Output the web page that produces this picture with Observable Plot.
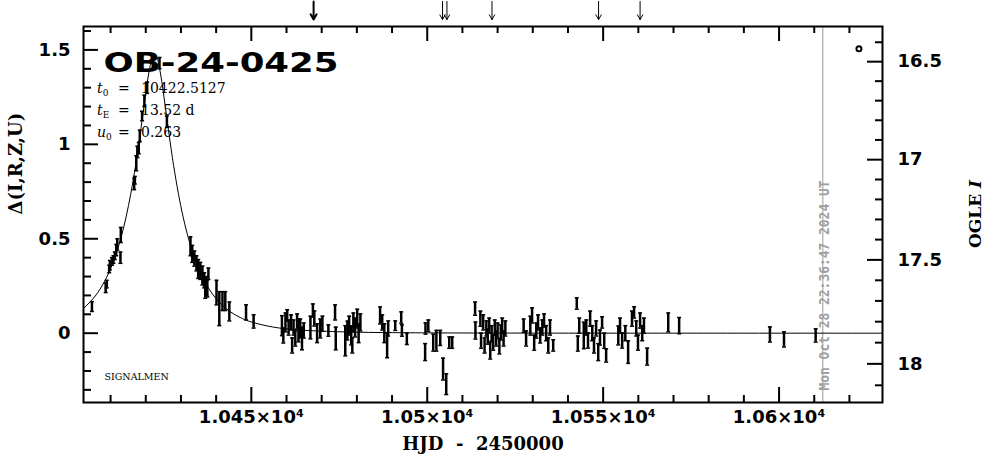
<!DOCTYPE html>
<html><head><meta charset="utf-8">
<script src="https://cdn.jsdelivr.net/npm/d3@7"></script>
<script src="https://cdn.jsdelivr.net/npm/@observablehq/plot@0.6"></script>
<style>
body{margin:0;background:#fff;}
#chart svg{display:block;}
</style>
</head><body><div id="chart"></div>
<script>
// ---- data ----
const hjd = [10404.7,10408.6,10408.9,10409.6,10409.8,10410.4,10410.8,10411.2,10411.6,10411.9,10412.8,10412.9,10416.7,10416.9,10417.3,10417.6,10418.0,10418.3,10418.95,10419.6,10420.4,10423.9,10426.0,
10432.7,10433.2,10433.8,10434.4,10434.9,10435.5,10436.1,10436.6,10437.2,10437.8,10436.9,10437.5,10440.1,10440.9,10441.8,10442.6,10443.75,10448.5,10450.65,
10458.7,10459.1,10459.7,10460.2,10460.6,10461.3,10461.6,10462.0,10462.5,10463.0,10463.4,10463.9,10464.4,10464.9,10466.8,10467.5,10467.9,10468.7,10469.6,10470.2,10471.9,10473.8,10474.0,
10476.7,10477.3,10477.8,10478.4,10478.7,10479.0,10479.5,10480.1,10480.5,10481.0,10486.6,10487.2,10487.8,10488.6,10488.9,10490.9,10492.6,10492.8,10494.2,
10499.5,10499.4,10500.3,10501.7,10502.6,10503.7,10504.5,10505.4,10506.25,10507.1,
10513.6,10513.7,10515.1,10515.3,10515.9,10516.3,10516.8,10517.2,10517.6,10517.9,10518.3,10518.75,10519.2,10519.6,10520.0,10520.5,10520.9,10521.3,10521.7,10522.2,
10527.4,10528.1,10529.3,10529.8,10530.4,10531.0,10531.5,10532.1,10532.7,10533.2,10533.8,10534.4,10534.9,10535.8,
10542.5,10543.2,10542.8,10544.5,10545.2,10545.7,10546.3,10546.9,10547.4,10548.0,10548.6,10549.1,10549.7,10550.3,10550.85,
10554.3,10554.8,10555.4,10556.3,10557.1,10558.2,10558.8,10559.4,10559.9,10560.5,10561.1,10561.6,10562.5,
10568.5,10571.6,10597.4,10601.4,10610.4];
const delta = [0.141,0.24,0.26,0.34,0.36,0.38,0.39,0.41,0.44,0.47,0.40,0.52,0.79,0.81,0.90,0.96,0.98,1.045,1.15,1.23,1.30,1.43,1.12,
0.46,0.42,0.395,0.37,0.34,0.33,0.305,0.28,0.25,0.315,0.225,0.237,0.215,0.13,0.17,0.17,0.115,0.11,0.062,
0.04,-0.012,0.057,0.094,0.03,0.057,-0.065,0.03,-0.028,0.062,0.014,0.025,-0.028,0.014,0.03,0.12,0.078,0.0,0.025,0.05,0.014,0.11,-0.028,
-0.04,0.014,0.04,-0.012,-0.065,0.057,0.03,0.077,0.0,0.057,0.094,0.057,0.0,-0.065,0.025,0.04,0.083,0.014,-0.03,
0.025,-0.10,0.04,-0.05,-0.04,-0.025,-0.19,-0.27,-0.05,-0.05,
0.13,0.014,0.077,-0.04,0.057,-0.065,0.025,-0.018,0.04,-0.092,0.0,-0.05,0.03,-0.028,0.014,-0.07,0.004,0.04,-0.028,0.025,
0.04,-0.028,0.04,0.094,-0.05,0.014,0.057,-0.012,0.03,0.067,0.0,-0.065,0.03,-0.065,
0.157,0.04,-0.055,-0.012,0.03,-0.039,0.077,0.0,-0.065,0.025,-0.10,-0.023,0.057,-0.04,-0.118,
-0.012,0.04,-0.039,0.0,-0.10,0.077,0.11,0.025,-0.05,0.067,0.0,0.04,-0.124,
0.057,0.04,-0.007,-0.033,-0.012];
const err = [0.026,0.025,0.02,0.02,0.025,0.02,0.02,0.02,0.03,0.03,0.03,0.04,0.03,0.02,0.04,0.03,0.03,0.03,0.025,0.03,0.03,0.03,0.03,
0.05,0.045,0.04,0.04,0.05,0.045,0.05,0.04,0.05,0.03,0.04,0.045,0.065,0.09,0.05,0.05,0.05,0.04,0.035,
0.053,0.04,0.05,0.03,0.04,0.04,0.04,0.04,0.04,0.04,0.06,0.05,0.06,0.04,0.06,0.035,0.04,0.05,0.05,0.04,0.03,0.04,0.06,
0.08,0.05,0.05,0.05,0.04,0.05,0.05,0.05,0.05,0.045,0.045,0.04,0.05,0.065,0.04,0.025,0.03,0.03,0.03,
0.03,0.045,0.03,0.045,0.055,0.04,0.058,0.055,0.03,0.03,
0.035,0.045,0.04,0.04,0.04,0.04,0.04,0.04,0.04,0.045,0.04,0.04,0.04,0.04,0.04,0.04,0.04,0.04,0.04,0.04,
0.035,0.04,0.05,0.04,0.04,0.04,0.04,0.04,0.04,0.035,0.04,0.04,0.04,0.03,
0.03,0.04,0.04,0.07,0.04,0.04,0.04,0.04,0.04,0.04,0.045,0.04,0.03,0.04,0.035,
0.05,0.04,0.04,0.04,0.06,0.04,0.03,0.04,0.04,0.04,0.04,0.04,0.045,
0.05,0.043,0.04,0.04,0.035];

// model curve (t0 = 10422.5127, tE = 13.52 d, u0 = 0.263), values read/checked against the picture
const modelT = [10402.3,10403.58,10406.29,10408.99,10410.35,10411.70,10413.05,10414.40,10415.75,10417.10,10417.78,10418.46,10419.13,10419.81,10420.48,10421.16,10421.84,10422.51,10423.19,10423.86,10424.54,10425.22,10425.89,10426.57,10427.24,10427.92,10429.27,10430.62,10431.98,10433.33,10434.68,10436.03,10438.74,10441.44,10444.14,10446.85,10449.55,10456.31,10463.07,10476.59,10490.11,10503.63,10530.67,10557.71,10629.4];
const modelD = [0.132,0.154,0.213,0.300,0.358,0.427,0.512,0.615,0.739,0.887,0.971,1.060,1.152,1.245,1.334,1.408,1.459,1.478,1.459,1.408,1.334,1.245,1.152,1.060,0.971,0.887,0.739,0.615,0.512,0.427,0.358,0.300,0.213,0.154,0.112,0.083,0.062,0.032,0.018,0.0067,0.0030,0.0015,0.0005,0.0002,0.0];

const xMajorTicks = [10450,10500,10550,10600];
const xMajorLabels = ["1.045×10⁴","1.05×10⁴","1.055×10⁴","1.06×10⁴"];
const xMinorTicks = [10410,10420,10430,10440,10460,10470,10480,10490,10510,10520,10530,10540,10560,10570,10580,10590,10610,10620];
const yMajorTicks = [0,0.5,1,1.5];
const yMajorLabels = ["0","0.5","1","1.5"];
const yMinorTicks = [-0.3,-0.2,-0.1,0.1,0.2,0.3,0.4,0.6,0.7,0.8,0.9,1.1,1.2,1.3,1.4,1.6];
const magMajorTicks = [16.5,17,17.5,18];
const magMajorLabels = ["16.5","17","17.5","18"];
const magMinorTicks = [16.4,16.6,16.7,16.8,16.9,17.1,17.2,17.3,17.4,17.6,17.7,17.8,17.9,18.1];
const magBase = 17.855, sourceFrac = 0.90;

const arrowTimes = [10467.7,10504.35,10505.6,10518.4,10548.7,10560.5];
const arrowBold = [true,false,false,false,false,false];
const nowHJD = 10612.44;
const nowLabel = "Mon Oct 28 22:36:47 2024 UT";
const eventName = "OB-24-0425";
const paramSymbols = ["t","t","u"];
const paramSubs = ["0","E","0"];
const paramValues = ["10422.5127","13.52 d","0.263"];
const surveyTag = "SIGNALMEN";
const legendT = [10622.7], legendD = [1.506];
const xTitle = "HJD  -  2450000";
const yTitle = "Δ(I,R,Z,U)";

// ---- layout ----
const W = 986, H = 459, mL = 83, mR = 104, mT = 26, mB = 57;
const frameW = W - mL - mR, frameH = H - mT - mB;
const xDomain = [10402.3, 10629.4], yDomain = [-0.367, 1.624];
const pxPerY = frameH / (yDomain[1] - yDomain[0]);
const arrowTopD = yDomain[1] + (mT - 1) / pxPerY;
const arrowTipD = yDomain[1] + (mT - 19) / pxPerY;

const magToDelta = m => 2.5 * Math.log10((Math.pow(10, -0.4 * (m - magBase)) - (1 - sourceFrac)) / sourceFrac);

const points = hjd.map((t, i) => ({t, d: delta[i], e: err[i]}));
const model = modelT.map((t, i) => ({t, d: modelD[i]}));
const arrows = arrowTimes.map((t, i) => ({t, bold: arrowBold[i]}));

const capSymbol = {draw(ctx, size) { const r = Math.sqrt(size / Math.PI); ctx.moveTo(-r, 0); ctx.lineTo(r, 0); }};

const tickFont = {fontFamily: "DejaVu Sans", fontWeight: "bold", fontSize: 18, fill: "black"};
const titleFont = {fontFamily: "DejaVu Serif", fontWeight: "bold", fontSize: 18, fill: "black"};

const plot = Plot.plot({
  width: W, height: H,
  marginLeft: mL, marginRight: mR, marginTop: mT, marginBottom: mB,
  x: {domain: xDomain, axis: null},
  y: {domain: yDomain, axis: null},
  style: {background: "white", overflow: "visible"},
  marks: [
    // "now" line and label
    Plot.ruleX([nowHJD], {x: d => d, stroke: "#9a9a9a", strokeWidth: 1}),
    Plot.text([nowLabel], {x: nowHJD, frameAnchor: "bottom", dy: -12, dx: 6, rotate: -90, textAnchor: "start",
      text: d => d, fill: "#a0a0a0", fontFamily: "DejaVu Sans Mono", fontWeight: "bold", fontSize: 14}),
    // model
    Plot.line(model, {x: "t", y: "d", curve: "catmull-rom", stroke: "black", strokeWidth: 1}),
    // error bars
    Plot.ruleX(points, {x: "t", y1: d => d.d - d.e, y2: d => d.d + d.e, stroke: "black", strokeWidth: 2.5}),
    Plot.dot(points, {x: "t", y: d => d.d + d.e, symbol: capSymbol, r: 2, stroke: "black", strokeWidth: 1.5, fill: "none"}),
    Plot.dot(points, {x: "t", y: d => d.d - d.e, symbol: capSymbol, r: 2, stroke: "black", strokeWidth: 1.5, fill: "none"}),
    // legend symbol
    Plot.dot(legendT.map((t, i) => ({t, d: legendD[i]})), {x: "t", y: "d", r: 2.5, stroke: "black", strokeWidth: 2, fill: "none"}),
    // frame
    Plot.frame({stroke: "black", strokeWidth: 2}),
    // bottom & top ticks
    Plot.ruleX(xMajorTicks, {x: d => d, insetTop: frameH - 15, strokeWidth: 2}),
    Plot.ruleX(xMinorTicks, {x: d => d, insetTop: frameH - 7, strokeWidth: 2}),
    Plot.ruleX(xMajorTicks, {x: d => d, insetBottom: frameH - 15, strokeWidth: 2}),
    Plot.ruleX(xMinorTicks, {x: d => d, insetBottom: frameH - 7, strokeWidth: 2}),
    // left ticks
    Plot.ruleY(yMajorTicks, {y: d => d, insetRight: frameW - 15, strokeWidth: 2}),
    Plot.ruleY(yMinorTicks, {y: d => d, insetRight: frameW - 8, strokeWidth: 2}),
    // right ticks (OGLE I)
    Plot.ruleY(magMajorTicks, {y: m => magToDelta(m), insetLeft: frameW - 15, strokeWidth: 2}),
    Plot.ruleY(magMinorTicks, {y: m => magToDelta(m), insetLeft: frameW - 7, strokeWidth: 2}),
    // tick labels
    Plot.text(xMajorTicks, {x: d => d, text: (d, i) => xMajorLabels[i], frameAnchor: "bottom", dy: 20, ...tickFont}),
    Plot.text(yMajorTicks, {y: d => d, text: (d, i) => yMajorLabels[i], frameAnchor: "left", dx: -13, textAnchor: "end", ...tickFont}),
    Plot.text(magMajorTicks, {y: m => magToDelta(m), text: (d, i) => magMajorLabels[i], frameAnchor: "right", dx: 15, textAnchor: "start", ...tickFont}),
    // axis titles
    Plot.text([xTitle], {text: d => d, frameAnchor: "bottom", dy: 47, ...titleFont}),
    Plot.text([yTitle], {text: d => d, frameAnchor: "left", dx: -67, rotate: -90, ...titleFont}),
    // arrows above the frame
    Plot.arrow(arrows.filter(d => d.bold), {x1: "t", x2: "t", y1: () => arrowTopD, y2: () => arrowTipD, headLength: 8, headAngle: 60, stroke: "black", strokeWidth: 2}),
    Plot.arrow(arrows.filter(d => !d.bold), {x1: "t", x2: "t", y1: () => arrowTopD, y2: () => arrowTipD, headLength: 8, headAngle: 60, stroke: "black", strokeWidth: 1}),
    // event name
    Plot.text([eventName], {text: d => d, frameAnchor: "top-left", dx: 20, dy: 27, textAnchor: "start",
      fontFamily: "DejaVu Sans", fontWeight: "bold", fontSize: 26, fill: "black"}),
    Plot.text([surveyTag], {text: d => d, frameAnchor: "bottom-left", dx: 21, dy: -23, textAnchor: "start",
      fontFamily: "DejaVu Serif", fontSize: 9.5, fill: "black"})
  ]
});

document.getElementById("chart").appendChild(plot);

// stretch event name to the reference width
const svg = d3.select(plot);
svg.selectAll("text").filter(function() { return this.textContent === eventName; })
  .attr("textLength", 235).attr("lengthAdjust", "spacingAndGlyphs");
svg.selectAll("text").filter(function() { return this.textContent === nowLabel; })
  .attr("textLength", 210).attr("lengthAdjust", "spacingAndGlyphs");

// right axis title with italic I
const rt = svg.append("text")
  .attr("transform", `translate(${W - mR + 93},${mT + frameH / 2}) rotate(-90)`)
  .attr("text-anchor", "middle").attr("dy", "0.35em")
  .attr("font-family", "DejaVu Serif").attr("font-weight", "bold").attr("font-size", 17);
rt.append("tspan").text("OGLE ");
rt.append("tspan").attr("font-style", "italic").text("I");

// fit parameters with subscripts
const pg = svg.append("g").attr("font-family", "DejaVu Serif").attr("font-size", 14)
  .attr("fill", "black").attr("text-anchor", "start");
paramValues.forEach((v, i) => {
  const y = mT + 67 + i * 22;
  const t = pg.append("text").attr("x", mL + 14).attr("y", y);
  t.append("tspan").attr("font-style", "italic").text(paramSymbols[i]);
  t.append("tspan").attr("font-size", 9).attr("dy", 3).text(paramSubs[i]);
  pg.append("text").attr("x", mL + 35).attr("y", y).text("=");
  pg.append("text").attr("x", mL + 58).attr("y", y).text(v);
});
</script>
</body></html>
